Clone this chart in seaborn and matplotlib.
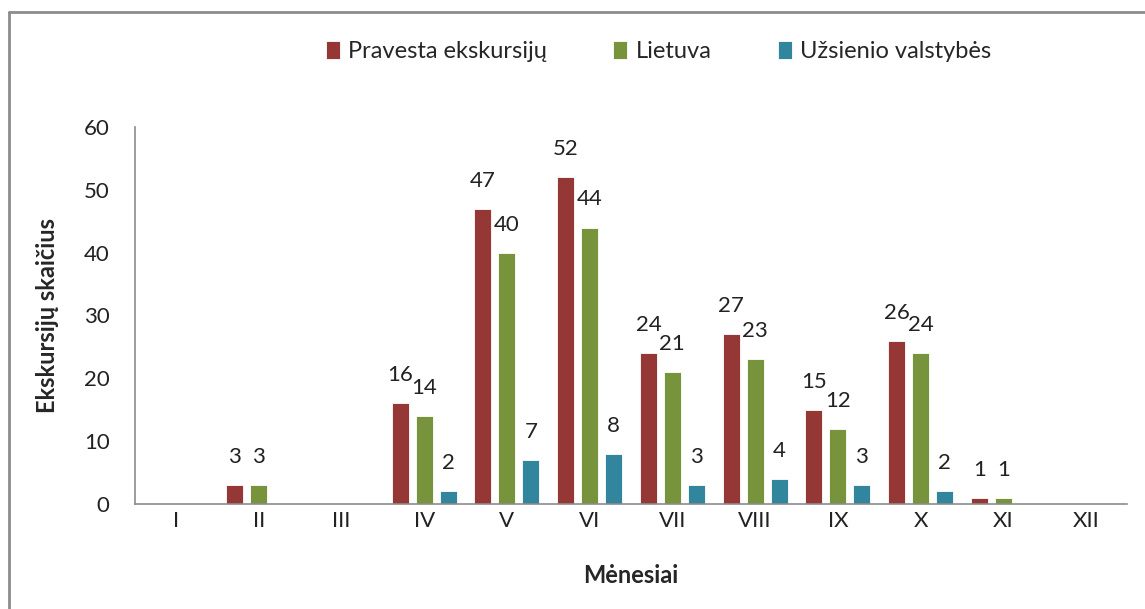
import pandas as pd
import matplotlib
matplotlib.use("Agg")
import matplotlib.pyplot as plt
from matplotlib.lines import Line2D
import seaborn as sns

# duomenys
menesiai = ["I", "II", "III", "IV", "V", "VI", "VII", "VIII", "IX", "X", "XI", "XII"]
pravesta = [0, 3, 0, 16, 47, 52, 24, 27, 15, 26, 1, 0]
lietuva = [0, 3, 0, 14, 40, 44, 21, 23, 12, 24, 1, 0]
uzsienio = [0, 0, 0, 2, 7, 8, 3, 4, 3, 2, 0, 0]
serijos = ["Pravesta ekskursijų", "Lietuva", "Užsienio valstybės"]
spalvos = ["#953735", "#77933C", "#31859C"]

df = pd.DataFrame({
    "Mėnesiai": menesiai * 3,
    "Skaičius": pravesta + lietuva + uzsienio,
    "Serija": [serijos[0]] * 12 + [serijos[1]] * 12 + [serijos[2]] * 12,
})

sns.set_style("white")
plt.rcParams["font.family"] = ["Lato", "DejaVu Sans"]

fig = plt.figure(figsize=(11.45, 6.09), dpi=100)
ax = fig.add_axes([0.1176, 0.1724, 0.867, 0.6191])

sns.barplot(data=df, x="Mėnesiai", y="Skaičius", hue="Serija",
            order=menesiai, hue_order=serijos, palette=spalvos,
            width=0.87, gap=0.29, saturation=1, edgecolor="white",
            linewidth=0.6, ax=ax)

for cont in ax.containers:
    vals = cont.datavalues
    ax.bar_label(cont, labels=[f"{int(v)}" if v > 0 else "" for v in vals],
                 padding=13, fontsize=16, color="#222222")

ax.set_ylim(0, 60)
ax.set_xlim(-0.5, 11.5)
ax.set_yticks(range(0, 61, 10))
ax.tick_params(axis="y", length=0, pad=18, labelsize=16, colors="#222222")
ax.tick_params(axis="x", length=0, pad=5, labelsize=16, colors="#222222")

for s in ["top", "right"]:
    ax.spines[s].set_visible(False)
for s in ["left", "bottom"]:
    ax.spines[s].set_color("#8c8c8c")
    ax.spines[s].set_linewidth(1.2)

ax.set_ylabel("Ekskursijų skaičius", fontsize=17, fontweight="bold", labelpad=18)
ax.set_xlabel("Mėnesiai", fontsize=17, fontweight="bold", labelpad=24)

h, l = ax.get_legend_handles_labels()
ax.legend(h, l, loc="center", bbox_to_anchor=(0.575, 0.915),
          bbox_transform=fig.transFigure, ncol=3, frameon=False,
          fontsize=17, handlelength=0.6, handleheight=0.8,
          handletextpad=0.35, columnspacing=2.8)

# rėmelis
fig.add_artist(Line2D([9 / 1145, 9 / 1145], [0, 1 - 12 / 609], color="#8c8c8c",
                      linewidth=2, transform=fig.transFigure))
fig.add_artist(Line2D([9 / 1145, 1], [1 - 12 / 609, 1 - 12 / 609], color="#8c8c8c",
                      linewidth=2, transform=fig.transFigure))

fig.savefig("out.png", dpi=100)
